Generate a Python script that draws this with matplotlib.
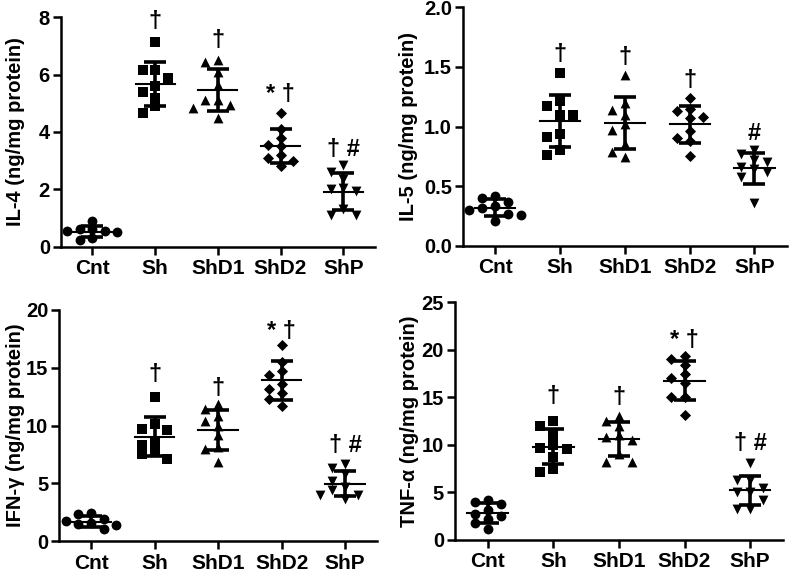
import numpy as np
import matplotlib
matplotlib.use('Agg')
import matplotlib.pyplot as plt
import matplotlib.transforms as mtransforms

plt.rcParams['font.family'] = ['Liberation Sans', 'DejaVu Sans']
plt.rcParams['font.weight'] = 'bold'

groups = ['Cnt', 'Sh', 'ShD1', 'ShD2', 'ShP']
markers = ['o', 's', '^', 'D', 'v']

il4 = [
    [0.9, 0.6, 0.55, 0.6, 0.5, 0.3, 0.25, 0.45, 0.55],
    [7.15, 6.15, 6.15, 5.9, 5.6, 5.4, 5.2, 4.9, 4.65],
    [6.45, 6.5, 6.1, 5.65, 5.1, 5.1, 4.85, 4.95, 4.5],
    [4.65, 4.1, 3.8, 3.55, 3.5, 3.2, 3.1, 3.0, 2.8],
    [2.85, 2.6, 2.35, 2.05, 1.95, 2.0, 1.3, 1.1, 1.1],
]
il5 = [
    [0.42, 0.40, 0.37, 0.33, 0.32, 0.30, 0.27, 0.26, 0.21],
    [1.45, 1.21, 1.17, 1.10, 1.10, 0.94, 0.91, 0.80, 0.76],
    [1.43, 1.2, 1.14, 1.1, 1.02, 0.97, 0.85, 0.79, 0.74],
    [1.24, 1.15, 1.13, 1.08, 1.07, 0.96, 0.90, 0.88, 0.75],
    [0.80, 0.77, 0.72, 0.70, 0.66, 0.64, 0.62, 0.58, 0.36],
]
ifng = [
    [2.4, 2.3, 1.9, 1.7, 1.6, 1.5, 1.4, 1.3, 1.0],
    [12.5, 10.1, 9.6, 9.7, 8.7, 8.3, 7.8, 7.5, 7.1],
    [11.9, 11.4, 10.8, 10.4, 10.0, 9.2, 8.0, 8.1, 6.8],
    [17.0, 15.5, 14.7, 14.4, 13.6, 13.2, 12.8, 12.3, 11.7],
    [6.7, 6.3, 5.8, 5.2, 4.7, 4.4, 4.0, 4.0, 3.6],
]
tnfa = [
    [4.2, 4.0, 3.8, 3.2, 2.7, 2.5, 2.2, 1.8, 1.2],
    [12.5, 12.0, 11.0, 10.0, 9.6, 9.7, 8.7, 7.5, 7.2],
    [13.0, 12.5, 12.0, 11.0, 10.8, 10.5, 9.0, 8.2, 8.2],
    [19.4, 19.0, 18.4, 17.5, 17.0, 16.5, 15.0, 15.0, 13.1],
    [8.1, 6.3, 6.3, 5.5, 5.0, 5.0, 4.2, 3.3, 3.3],
]

# significance labels and their heights
il4_sig = ['', '†', '†', '* †', '† #']
il4_sig_y = [None, 7.85, 7.2, 5.3, 3.4]
il5_sig = ['', '†', '†', '†', '#']
il5_sig_y = [None, 1.6, 1.58, 1.39, 0.94]
ifng_sig = ['', '†', '†', '* †', '† #']
ifng_sig_y = [None, 14.4, 13.2, 18.1, 8.3]
tnfa_sig = ['', '†', '†', '* †', '† #']
tnfa_sig_y = [None, 15.1, 15.0, 21.0, 10.2]

panels = [
    ('IL-4 (ng/mg protein)', il4, il4_sig, il4_sig_y, 8, 2, '%d'),
    ('IL-5 (ng/mg protein)', il5, il5_sig, il5_sig_y, 2.0, 0.5, '%.1f'),
    ('IFN-γ (ng/mg protein)', ifng, ifng_sig, ifng_sig_y, 20, 5, '%d'),
    ('TNF-α (ng/mg protein)', tnfa, tnfa_sig, tnfa_sig_y, 25, 5, '%d'),
]
rects = [
    [0.0772, 0.568, 0.397, 0.4017],
    [0.586, 0.5697, 0.410, 0.4175],
    [0.0751, 0.0525, 0.402, 0.4046],
    [0.576, 0.0543, 0.415, 0.4163],
]
# right edge of the rotated y label, in figure pixels
label_x = [25, 418, 25, 419]


def swarm(vals, ax, step=0.2, min_px=8.5):
    # simple beeswarm: push points sideways when they would overlap
    order = np.argsort(vals)[::-1]
    placed = []
    offs = np.zeros(len(vals))
    for i in order:
        y_px = ax.transData.transform((0, vals[i]))[1]
        for k in [0, -1, 1, -2, 2, -3, 3]:
            ok = True
            for (pk, py) in placed:
                if pk == k and abs(py - y_px) < min_px:
                    ok = False
                    break
            if ok:
                offs[i] = k * step
                placed.append((k, y_px))
                break
    return offs


fig = plt.figure(figsize=(7.9, 5.71), dpi=100)

for (label, data, sig, sig_y, ymax, ystep, fmt), r, lx in zip(panels, rects, label_x):
    ax = fig.add_axes(r)
    ax.set_xlim(-0.5, 4.5)
    ax.set_ylim(0, ymax)
    for gi, vals in enumerate(data):
        vals = np.array(vals)
        offs = swarm(vals, ax)
        ax.scatter(gi + offs, vals, marker=markers[gi], s=50 if markers[gi] != 'D' else 32,
                   color='black', zorder=3, linewidths=0)
        m = vals.mean()
        sd = vals.std(ddof=1)
        ax.plot([gi - 0.31, gi + 0.31], [m, m], color='black', lw=1.5, zorder=4)
        ax.errorbar(gi, m, yerr=sd, fmt='none', ecolor='black', elinewidth=2.6,
                    capsize=8, capthick=2.6, zorder=4)
        if sig[gi]:
            ax.text(gi, sig_y[gi], sig[gi], ha='center', va='center', fontsize=17, fontweight='bold')
    ax.set_xticks(range(len(groups)))
    ax.set_xticklabels(groups)
    ax.set_yticks(np.arange(0, ymax + ystep / 2, ystep))
    ax.yaxis.set_major_formatter(matplotlib.ticker.FormatStrFormatter(fmt))
    ax.set_ylabel(label, fontsize=14.5, fontweight='bold')
    tr = mtransforms.blended_transform_factory(fig.transFigure, ax.transAxes)
    ax.yaxis.set_label_coords(lx / 790, 0.5, transform=tr)
    ax.tick_params(axis='x', labelsize=15, width=1.8, length=6, pad=3)
    ax.tick_params(axis='y', labelsize=14.5, width=1.8, length=6, pad=2)
    for s in ['top', 'right']:
        ax.spines[s].set_visible(False)
    for s in ['left', 'bottom']:
        ax.spines[s].set_linewidth(1.8)

fig.savefig('out.png', dpi=100)
